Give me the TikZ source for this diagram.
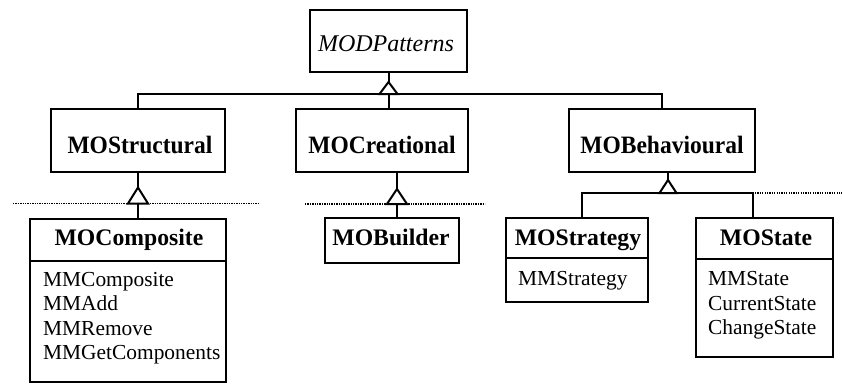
\documentclass[tikz,border=0pt]{standalone}
\usepackage{fontspec}
\setmainfont{Liberation Serif}
\newfontfamily\tallserif[FakeStretch=0.94]{Liberation Serif}

\tikzset{
  box/.style={draw, line width=2pt, inner sep=0pt, fill=none},
  conn/.style={line width=2pt},
  hollow/.style={line width=2pt, fill=white, line join=miter},
  dotline/.style={line width=1.6pt, dash pattern=on 1.3pt off 1.1pt},
  head/.style={anchor=base, inner sep=0pt, font=\fontsize{23.7}{28}\selectfont\bfseries},
  tophead/.style={anchor=base, inner sep=0pt, font=\tallserif\fontsize{25}{28}\selectfont\bfseries},
  abstr/.style={anchor=base, inner sep=0pt, font=\fontsize{24}{28}\selectfont\itshape},
  member/.style={anchor=base west, inner sep=0pt, font=\fontsize{21.4}{25}\selectfont},
}

\begin{document}
\begin{tikzpicture}[x=1pt, y=-1pt]
\useasboundingbox (0,0) rectangle (842,383);

% ---- class boxes ----
\node[box, minimum width=157, minimum height=62] (pat)    at (388.5,41)  {};
\node[box, minimum width=174, minimum height=63] (struct) at (138,140.5) {};
\node[box, minimum width=172, minimum height=63] (creat)  at (382,140.5) {};
\node[box, minimum width=186, minimum height=63] (behav)  at (662,140.5) {};

\node[box, minimum width=196, minimum height=42]  (comph) at (128,240)   {};
\node[box, minimum width=196, minimum height=121] (compb) at (128,321.5) {};
\node[box, minimum width=134, minimum height=45]  (build) at (392,240.5) {};
\node[box, minimum width=142, minimum height=40]  (strath) at (577,238)  {};
\node[box, minimum width=142, minimum height=44]  (stratb) at (577,280)  {};
\node[box, minimum width=137, minimum height=41]  (stateh) at (764.5,238.5) {};
\node[box, minimum width=137, minimum height=98]  (stateb) at (764.5,308) {};

% ---- class names ----
\node[abstr]   (tpat)    at (386,51)  {MODPatterns};
\node[tophead] (tstruct) at (140,153) {MOStructural};
\node[tophead] (tcreat)  at (382,153) {MOCreational};
\node[tophead] (tbehav)  at (662,153) {MOBehavioural};
\node[head]    (tcomp)   at (129,245) {MOComposite};
\node[head]    (tbuild)  at (391,245) {MOBuilder};
\node[head]    (tstrat)  at (578,245) {MOStrategy};
\node[head]    (tstate)  at (766,245) {MOState};

% ---- members ----
\node[member] (m1) at (43,286)   {MMComposite};
\node[member] (m2) at (43,310.5) {MMAdd};
\node[member] (m3) at (43,335)   {MMRemove};
\node[member] (m4) at (43,359.5) {MMGetComponents};
\node[member] (s1) at (518,285.5) {MMStrategy};
\node[member] (t1) at (708,285.5) {MMState};
\node[member] (t2) at (708,310)   {CurrentState};
\node[member] (t3) at (708,334.5) {ChangeState};

% ---- MODPatterns generalisation ----
\coordinate (j0) at (388.5,94);
\draw[conn] (pat.south) -- (j0);
\draw[conn] (struct.north) |- (j0) -| (behav.north);
\draw[conn] (creat.north -| j0) -- (j0);
\draw[hollow] (j0) ++(-9,0) -- ++(9,-12) -- ++(9,12) -- cycle;

% ---- MOStructural -> MOComposite ----
\coordinate (d1a) at (13,203.5);
\coordinate (d1b) at (258,203.5);
\coordinate (j1) at (struct.south |- d1a);
\draw[dotline] (d1a) -- (d1b);
\draw[conn] (struct.south) -- (struct.south |- comph.north);
\draw[hollow] (j1) ++(-10,0) -- ++(10,-16) -- ++(10,16) -- cycle;

% ---- MOCreational -> MOBuilder ----
\coordinate (cb) at (397,172);
\coordinate (d2a) at (305,204);
\coordinate (d2b) at (485,204);
\coordinate (j2) at (cb |- d2a);
\draw[dotline] (d2a) -- (d2b);
\draw[conn] (cb) -- (cb |- build.north);
\draw[hollow] (j2) ++(-10,0) -- ++(10,-15) -- ++(10,15) -- cycle;

% ---- MOBehavioural -> MOStrategy, MOState ----
\coordinate (j3) at (668,193);
\coordinate (sa) at (582,193);
\coordinate (sb) at (752.5,193);
\coordinate (se) at (842,193);
\draw[dotline] (sb) -- (se);
\draw[conn] (sa |- strath.north) -- (sa) -- (sb) -- (sb |- stateh.north);
\draw[conn] (j3 |- behav.south) -- (j3);
\draw[hollow] (j3) ++(-8.5,0) -- ++(8.5,-13) -- ++(8.5,13) -- cycle;
\end{tikzpicture}
\end{document}
